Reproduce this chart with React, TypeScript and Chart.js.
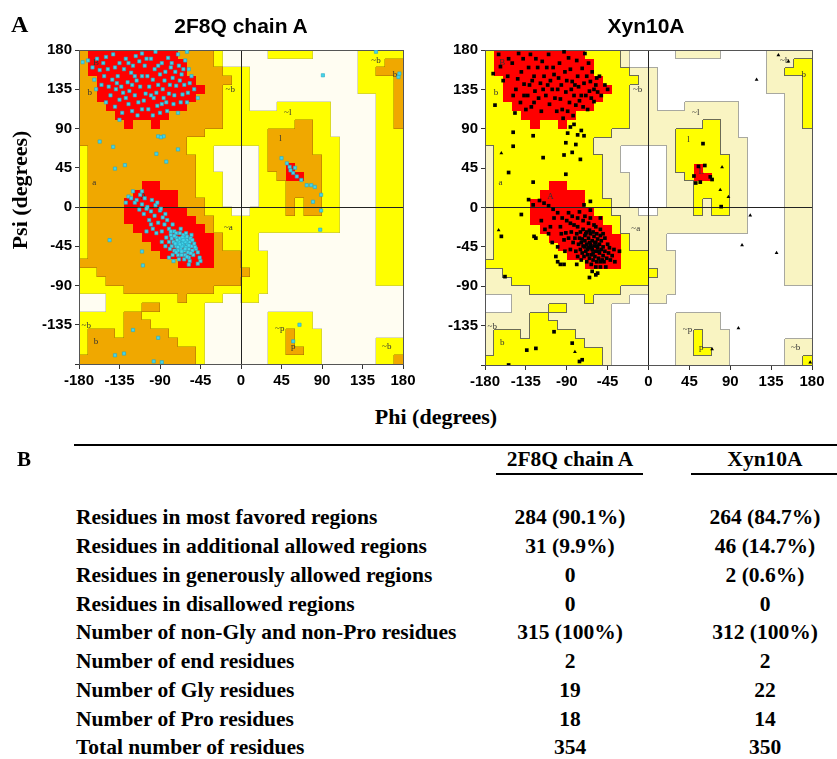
import React, { useEffect, useRef } from "react";
import { Chart, registerables } from "chart.js";

Chart.register(...registerables);

// ---------- DATA ----------
const PHI_TICKS = [-180, -135, -90, -45, 0, 45, 90, 135, 180];
const PSI_TICKS = [-180, -135, -90, -45, 0, 45, 90, 135, 180];

// Ramachandran region map, 10° cells. Rows: psi 180 -> -180, columns: phi -180 -> 180
// R = most favoured, O = additional allowed, Y = generously allowed, . = disallowed
const REGION_ROWS = [
  "ORRRRRRRRRROOOOY.." + "...YYYYY.....YYYYY",
  "ORRRRRRRRRRROOOY.." + ".............YYYOO",
  "ORRRRRRRRRRROOOOYY" + "Y............YYOOO",
  "OORRRRRRRRRRROOOOY" + "Y............YYYYO",
  "OORRRRRRRRRRRROOYY" + "Y............YYYYO",
  "OORRRRRRRRRRROOOYY" + "Y..............YYO",
  "OOORRRRRRRRROOOOYY" + "Y...YYYYYY.....YYO",
  "OOOORRRRRROOOOOOYY" + "YYYYYYYYYY.....YYO",
  "OOOOOROOROOOOOOOYY" + "YYYYYYOOYY.....YYO",
  "OOOOOOOOOOOOOOYYYY" + "YYYOOOOOYY.....YYY",
  "OOOOOOOOOOOOYYYYYY" + "YYYOOOOOYYY....YYY",
  "YOOOOOOOOOOOYYY..." + "..YOOOOOYYY....YYY",
  "YOOOOOOOOOOOOYY..." + "..YOOOOOOYY....YYY",
  "YOOOOOOOOOOOOYY..." + "..YOOROOOYY....YYY",
  "YOOOOOOOOOOOOYYY.." + "..YYORROOYY....YYY",
  "YOOOOOORROOOOYYY.." + "..YYYOOOOYY....YYY",
  "YOOOOORRRRROOYYY.." + "..YYYOOOOYY....YYY",
  "YOOOORRRRRROOOYY.." + "..YYYOYOOYY....YYY",
  "YOOOORRRRRRROOYYY." + ".YYYYOYOOYY....YYY",
  "YOOOORRRRRRRROOYYY" + "YYYYYYYYYYY....YYY",
  "YOOOOORRRRRRRROYYY" + "YYYYYYYYYYY....YYY",
  "YOOOOOORRRRRRRROYY" + "YY.............YYY",
  "YOOOOOOORRRRRRROYY" + "YY.............YYY",
  "YOOOOOOOORRRRRROOO" + "YYY............YYY",
  "OOOOOOOOOOORRRROOO" + "YYY............YYY",
  "YYOOOOOOOOOOOOOOOO" + "OYY............YYY",
  "YYYOOOOOOOOOOOOOOO" + "YYY............YYY",
  "YYYYYOOOOOOOOOOYYY" + "YYY...............",
  "...YYYYYYYYOYYYY.." + "YY................",
  "...YYYYOOYYYYY...." + "..................",
  "YYYYYOOYYYYYYY...." + "...YYYYY..........",
  "YYYYYOOOYYYYYY...." + "...YYYYY..........",
  "YOOOYOOOOOYYYY...." + "...YYOYYY.........",
  "YOOOOOOOOOOYYY...." + "...YYOYYY......YYY",
  "YOOOOOOOOOOOOY...." + "...YYOOYY......YYY",
  "OOOOOOOOOOOOOY...." + "...YYYYYY......YYO",
];

const REGION_LABELS: [string, number, number][] = [
  ["B", -161, 166], ["b", -168, 131], ["A", -108, 12], ["a", -163, 28],
  ["L", 58, 41], ["l", 44, 78], ["~l", 52, 108], ["~b", -12, 135],
  ["~a", -14, -24], ["~b", 150, 168], ["b", 171, 152], ["~b", -172, -136],
  ["b", -161, -154], ["~p", 43, -140], ["p", 58, -160], ["~b", 162, -160],
];

// 2F8Q chain A residues (phi, psi)
const LEFT_RESIDUES: [number, number][] = [
  [-176,166],[-170,168],[-163,146],[-161,135],[-157,157],[-152,150],[-148,158],[-143,146],[-139,135],[-135,123],
  [-131,131],[-126,143],[-122,154],[-117,173],[-113,167],[-107,162],[-104,150],[-98,146],[-94,131],[-93,116],
  [-87,135],[-83,120],[-81,171],[-76,148],[-72,139],[-69,162],[-65,129],[-59,131],[-55,150],[-150,172],
  [-142,175],[-135,165],[-128,170],[-120,162],[-110,176],[-100,170],[-95,178],[-88,165],[-78,160],[-70,175],
  [-62,168],[-58,158],[-145,128],[-150,120],[-140,115],[-132,108],[-125,118],[-118,128],[-112,138],[-108,122],
  [-103,112],[-97,125],[-90,108],[-85,145],[-80,130],[-75,118],[-68,145],[-63,140],[-60,120],[-52,135],
  [-48,125],[-155,140],[-147,138],[-137,150],[-130,158],[-124,133],[-116,145],[-110,150],[-102,138],[-96,158],
  [-90,152],[-84,155],[-79,140],[-73,155],[-66,152],[-138,142],[-133,138],[-128,125],[-121,140],[-114,120],
  [-106,130],[-100,128],[-92,140],[-86,125],[-74,128],[-67,120],[-57,142],[-121,110],[-115,105],[-135,100],
  [-98,105],[-82,110],[-70,108],[-165,160],[-160,170],[-153,165],[-125,165],[-118,150],[-105,170],[-92,162],
  [-60,178],[-140,160],[-110,112],[-88,118],[-77,165],[-64,158],
  [-157,75],[-142,69],[-140,44],[-129,48],[-92,81],[-86,81],[-89,80],[-94,61],[-83,52],[-70,66],
  [-125,12],[-120,18],[-116,8],[-112,14],[-118,5],[-110,3],[-107,10],[-104,0],[-113,-3],[-108,-8],
  [-100,-5],[-102,-15],[-96,-10],[-95,2],[-90,-4],[-92,-18],[-87,-12],[-85,-20],[-98,-25],[-94,-30],
  [-88,-28],[-82,-15],[-80,-25],[-78,-32],[-83,-35],[-76,-20],[-74,-28],[-72,-35],[-70,-42],[-75,-40],
  [-68,-30],[-66,-38],[-64,-44],[-62,-36],[-60,-42],[-58,-48],[-67,-48],[-63,-50],[-70,-50],[-72,-45],
  [-65,-42],[-61,-46],[-57,-40],[-55,-45],[-59,-52],[-54,-50],[-68,-36],[-64,-32],[-60,-38],[-66,-45],
  [-62,-40],[-69,-40],[-71,-38],[-73,-42],[-56,-36],[-52,-42],[-50,-48],[-53,-55],[-58,-58],[-62,-55],
  [-66,-55],[-70,-55],[-74,-50],[-77,-45],[-80,-40],[-79,-48],[-63,-60],[-57,-62],[-48,-52],[-46,-58],
  [-67,-25],[-61,-30],[-55,-32],[-72,-30],[-77,-36],[-65,-35],[-60,-34],[-58,-44],[-64,-38],[-68,-43],
  [-70,-46],[-62,-48],[-56,-53],[-60,-57],[-66,-51],[-72,-52],[-76,-55],[-54,-38],[-51,-46],[-74,-33],
  [-78,-28],[-84,-8],[-89,-2],[-93,5],[-99,8],[-105,-2],[-110,18],[-122,10],[-128,5],[-80,-58],
  [-69,-60],[-75,-62],[-84,-45],[-88,-40],[-45,-62],[-48,-65],[-58,-66],[-100,-20],[-105,-28],
  [-110,-51],[-109,-67],[-146,-38],[-120,-141],[-92,-150],[-140,-170],[-97,-177],[-88,-178],[-130,-168],
  [45,56],[51,50],[54,46],[58,39],[62,35],[67,31],[73,25],[78,25],[82,23],[80,6],
  [89,14],[89,-4],[88,-26],[55,42],[60,45],
  [91,151],[58,-154],[65,-135],[175,149],[176,153],[150,178],
];

// Xyn10A residues (phi, psi)
const RIGHT_RESIDUES: [number, number][] = [
  [-171,153],[-163,161],[-154,170],[-143,176],[-144,147],[-146,135],[-137,141],[-133,128],[-126,120],[-125,133],
  [-117,167],[-112,160],[-108,145],[-104,152],[-100,135],[-97,124],[-91,132],[-88,171],[-84,144],[-80,117],
  [-77,138],[-73,159],[-69,128],[-64,144],[-60,121],[-56,132],[-150,165],[-138,170],[-130,175],[-122,160],
  [-115,150],[-110,175],[-98,165],[-93,178],[-86,158],[-79,168],[-70,176],[-66,165],[-62,155],[-155,150],
  [-149,128],[-141,120],[-135,112],[-128,145],[-121,125],[-116,135],[-109,118],[-103,125],[-95,112],[-90,145],
  [-82,128],[-76,122],[-71,142],[-65,133],[-58,140],[-52,128],[-45,135],[-140,155],[-132,160],[-126,150],
  [-119,142],[-113,128],[-106,135],[-99,148],[-92,155],[-85,135],[-78,150],[-74,128],[-68,150],[-63,125],
  [-57,148],[-131,140],[-124,170],[-118,110],[-111,140],[-101,110],[-96,140],[-87,120],[-81,140],[-67,112],
  [-60,135],[-147,108],[-137,128],[-160,145],[-165,175],[-105,160],[-89,110],[-72,115],[-54,150],[-48,140],
  [-129,115],[-83,105],[-94,102],
  [-82,95],[-89,85],[-78,83],[-71,82],[-91,74],[-80,72],[-84,63],[-116,57],[-127,29],[-149,86],
  [-127,82],[-149,70],[-154,40],[-91,38],[-75,55],[-64,7],[-169,117],[-93,60],[-86,92],[-74,88],
  [-132,9],[-140,-8],[-127,3],[-162,-33],[-126,-33],[-124,-35],[-102,-56],[-100,-62],[-97,-65],[-93,-65],
  [-79,-65],[-62,-73],[-56,-75],[-108,-22],[-97,-22],[-91,-29],[-93,-37],[-88,-6],[-86,-18],[-71,3],
  [-64,-3],[-53,-12],[-43,-46],[-32,-50],[-37,-62],
  [-78,-22],[-75,-28],[-72,-25],[-70,-32],[-68,-28],[-66,-35],[-64,-30],[-62,-38],[-60,-33],[-58,-40],
  [-56,-36],[-54,-42],[-52,-38],[-50,-45],[-48,-50],[-76,-35],[-74,-40],[-72,-44],[-70,-38],[-68,-42],
  [-66,-46],[-64,-42],[-62,-48],[-60,-44],[-58,-50],[-56,-46],[-54,-52],[-52,-48],[-50,-55],[-46,-58],
  [-75,-48],[-73,-52],[-71,-56],[-69,-50],[-67,-54],[-65,-58],[-63,-54],[-61,-60],[-59,-56],[-57,-62],
  [-55,-58],[-53,-62],[-51,-60],[-49,-62],[-77,-42],[-79,-30],[-81,-35],[-83,-40],[-85,-28],[-80,-50],
  [-78,-56],[-74,-60],[-68,-62],[-63,-65],[-58,-68],[-53,-68],[-47,-68],[-44,-52],[-70,-45],[-65,-40],
  [-61,-52],[-57,-44],[-67,-48],[-63,-46],[-59,-40],[-55,-50],[-73,-36],[-69,-30],[-65,-26],[-61,-28],
  [-57,-30],[-53,-32],[-60,-20],[-66,-18],[-72,-15],[-78,-12],[-84,-10],[-90,-15],[-95,-12],[-100,-6],
  [-105,-2],[-110,2],[-115,5],[-120,8],[-96,-30],[-88,-35],[-86,-48],[-92,-50],[-100,-45],[-106,-40],
  [-110,-30],[-114,-25],[-118,-15],[-104,-12],[-82,-20],[-76,-5],[-70,-10],[-64,-12],[-58,-22],[-53,-25],
  [-48,-35],[-45,-42],[-50,-30],[-42,-60],[-40,-55],[-38,-48],
  [-158,-79],[-104,-142],[-84,-155],[-134,-163],[-124,-161],[-76,-176],[-73,-174],[-154,-180],[-65,-80],[-58,-77],
  [60,73],[55,47],[52,28],[57,29],[68,35],[80,1],[62,48],[50,36],[70,32],
];

// Xyn10A glycine residues (triangles)
const RIGHT_GLYCINES: [number, number][] = [
  [-162,62],[-165,-26],[81,46],[112,-9],[103,-43],[119,146],[143,174],[154,167],[141,-52],[99,-138],
  [70,-162],[178,-177],[-81,-165],[79,20],[88,12],
];

const TABLE_HEADERS = ["2F8Q chain A", "Xyn10A"];
const TABLE_LABELS = [
  "Residues in most favored regions",
  "Residues in additional allowed regions",
  "Residues in generously allowed regions",
  "Residues in disallowed regions",
  "Number of non-Gly and non-Pro residues",
  "Number of end residues",
  "Number of Gly residues",
  "Number of Pro residues",
  "Total number of residues",
];
const TABLE_2F8Q = ["284 (90.1%)", "31 (9.9%)", "0", "0", "315 (100%)", "2", "19", "18", "354"];
const TABLE_XYN10A = ["264 (84.7%)", "46 (14.7%)", "2 (0.6%)", "0", "312 (100%)", "2", "22", "14", "350"];

// ---------- CHART HELPERS ----------
type Palette = Record<string, string>;

const LEFT_PALETTE: Palette = { R: "#ff0000", O: "#f0a800", Y: "#ffff00", ".": "#fffdf2" };
const RIGHT_PALETTE: Palette = { R: "#ff0000", O: "#ffff00", Y: "#f9f4c2", ".": "#ffffff" };

function makeRegionPlugin(palette: Palette, edges: { strong: string; weak: string } | null) {
  return {
    id: "ramaRegions",
    beforeDraw(chart: any) {
      const { ctx, scales } = chart;
      const xs = scales.x;
      const ys = scales.y;
      const code = (r: number, c: number) => (REGION_ROWS[r] && REGION_ROWS[r][c]) || ".";
      const px = (c: number) => Math.round(xs.getPixelForValue(-180 + 10 * c));
      const py = (r: number) => Math.round(ys.getPixelForValue(180 - 10 * r));
      ctx.save();
      for (let r = 0; r < 36; r++) {
        for (let c = 0; c < 36; c++) {
          const x0 = px(c), x1 = px(c + 1), y0 = py(r), y1 = py(r + 1);
          ctx.fillStyle = palette[code(r, c)];
          ctx.fillRect(x0, y0, x1 - x0, y1 - y0);
        }
      }
      if (edges) {
        ctx.lineWidth = 1;
        for (let r = 0; r < 36; r++) {
          for (let c = 0; c < 36; c++) {
            const a = code(r, c);
            if (c < 35) {
              const b = code(r, c + 1);
              if (a !== b && a !== "R" && b !== "R") {
                ctx.strokeStyle = a === "." || b === "." ? edges.weak : edges.strong;
                const x = px(c + 1) - 0.5;
                ctx.beginPath();
                ctx.moveTo(x, py(r));
                ctx.lineTo(x, py(r + 1));
                ctx.stroke();
              }
            }
            if (r < 35) {
              const b = code(r + 1, c);
              if (a !== b && a !== "R" && b !== "R") {
                ctx.strokeStyle = a === "." || b === "." ? edges.weak : edges.strong;
                const y = py(r + 1) - 0.5;
                ctx.beginPath();
                ctx.moveTo(px(c), y);
                ctx.lineTo(px(c + 1), y);
                ctx.stroke();
              }
            }
          }
        }
      }
      ctx.fillStyle = "#333";
      ctx.font = '9px "Liberation Serif", serif';
      ctx.textAlign = "center";
      ctx.textBaseline = "middle";
      for (const [t, phi, psi] of REGION_LABELS) {
        ctx.fillText(t, xs.getPixelForValue(phi), ys.getPixelForValue(psi));
      }
      ctx.restore();
    },
  };
}

const tickFont = { family: '"Liberation Sans", Arial, sans-serif', size: 15, weight: "bold" as const };

function gridColor(ctx: any) {
  const v = ctx.tick ? ctx.tick.value : null;
  if (v === 0) return "#222";
  if (v === 180 || v === -180) return "#555";
  return "rgba(0,0,0,0)";
}

function buildOptions(yAxisWidth: number, xAxisHeight: number, rightPad: number) {
  return {
    responsive: false,
    animation: false as const,
    events: [] as any[],
    layout: { padding: { left: 0, right: rightPad, top: 50, bottom: 0 } },
    plugins: { legend: { display: false }, tooltip: { enabled: false }, title: { display: false } },
    scales: {
      x: {
        type: "linear" as const,
        min: -180,
        max: 180,
        afterFit: (s: any) => { s.height = xAxisHeight; },
        afterBuildTicks: (s: any) => { s.ticks = PHI_TICKS.map((v) => ({ value: v })); },
        ticks: { font: tickFont, color: "#000", padding: 3, maxRotation: 0, autoSkip: false },
        grid: { color: gridColor, tickColor: "#333", tickLength: 5, lineWidth: 1 },
        border: { display: true, color: "#555" },
      },
      y: {
        type: "linear" as const,
        min: -180,
        max: 180,
        afterFit: (s: any) => { s.width = yAxisWidth; },
        afterBuildTicks: (s: any) => { s.ticks = PSI_TICKS.map((v) => ({ value: v })); },
        ticks: {
          font: tickFont,
          color: "#000",
          padding: 3,
          autoSkip: false,
          callback: (v: any) => (v === -180 ? "" : String(v)),
        },
        grid: { color: gridColor, tickColor: "#333", tickLength: 4, lineWidth: 1 },
        border: { display: true, color: "#555" },
      },
    },
  };
}

function RamaChart(props: {
  width: number; height: number; left: number; yAxisWidth: number; xAxisHeight: number; rightPad: number;
  palette: Palette; edges: { strong: string; weak: string } | null; datasets: any[];
}) {
  const ref = useRef<HTMLCanvasElement | null>(null);
  useEffect(() => {
    if (!ref.current) return;
    const chart = new Chart(ref.current, {
      type: "scatter",
      data: { datasets: props.datasets },
      options: buildOptions(props.yAxisWidth, props.xAxisHeight, props.rightPad) as any,
      plugins: [makeRegionPlugin(props.palette, props.edges)],
    });
    return () => chart.destroy();
  }, []);
  return (
    <canvas
      ref={ref}
      width={props.width}
      height={props.height}
      style={{ position: "absolute", left: props.left, top: 0, width: props.width, height: props.height }}
    />
  );
}

const toXY = (arr: [number, number][]) => arr.map(([x, y]) => ({ x, y }));

const serif = '"Liberation Serif", "Times New Roman", serif';
const sans = '"Liberation Sans", Arial, sans-serif';

function Centered(props: { x: number; y: number; style?: React.CSSProperties; children: React.ReactNode }) {
  return (
    <div
      style={{
        position: "absolute",
        left: props.x,
        top: props.y,
        transform: "translate(-50%, -50%)",
        whiteSpace: "nowrap",
        lineHeight: 1,
        ...props.style,
      }}
    >
      {props.children}
    </div>
  );
}

export default function App() {
  const leftSets = [
    {
      data: toXY(LEFT_RESIDUES),
      pointStyle: "rect",
      pointRadius: 2.3,
      backgroundColor: "#45d4ea",
      borderColor: "#25a9c4",
      borderWidth: 0.6,
    },
  ];
  const rightSets = [
    {
      data: toXY(RIGHT_RESIDUES),
      pointStyle: "rect",
      pointRadius: 2.6,
      backgroundColor: "#000",
      borderColor: "#000",
      borderWidth: 0,
    },
    {
      data: toXY(RIGHT_GLYCINES),
      pointStyle: "triangle",
      pointRadius: 2.2,
      backgroundColor: "#000",
      borderColor: "#000",
      borderWidth: 0,
    },
  ];
  const rowY0 = 518.3;
  const rowStep = 28.75;
  const rowFont: React.CSSProperties = { fontFamily: serif, fontWeight: "bold", fontSize: 21.5, color: "#000" };
  return (
    <div style={{ position: "relative", width: 837, height: 759, background: "#fff", overflow: "hidden" }}>
      <style>{`body{margin:0;}`}</style>
      <RamaChart
        width={420} height={400} left={0} yAxisWidth={79} xAxisHeight={36} rightPad={17}
        palette={LEFT_PALETTE} edges={{ strong: "rgba(150,105,0,0.45)", weak: "rgba(150,150,110,0.35)" }} datasets={leftSets}
      />
      <RamaChart
        width={417} height={400} left={420} yAxisWidth={65} xAxisHeight={35} rightPad={25}
        palette={RIGHT_PALETTE} edges={{ strong: "#6b6b55", weak: "#a8a8a0" }} datasets={rightSets}
      />
      <div style={{ position: "absolute", left: 11, top: 12, fontFamily: serif, fontWeight: "bold", fontSize: 24, lineHeight: 1 }}>A</div>
      <Centered x={241} y={25} style={{ fontFamily: sans, fontWeight: "bold", fontSize: 21 }}>2F8Q chain A</Centered>
      <Centered x={646} y={25} style={{ fontFamily: sans, fontWeight: "bold", fontSize: 21 }}>Xyn10A</Centered>
      <div
        style={{
          position: "absolute", left: 20, top: 190, transform: "translate(-50%, -50%) rotate(-90deg)",
          whiteSpace: "nowrap", lineHeight: 1, fontFamily: serif, fontWeight: "bold", fontSize: 22,
        }}
      >
        Psi (degrees)
      </div>
      <Centered x={436} y={417} style={{ fontFamily: serif, fontWeight: "bold", fontSize: 22 }}>Phi (degrees)</Centered>

      <Centered x={24} y={459} style={{ fontFamily: serif, fontWeight: "bold", fontSize: 21 }}>B</Centered>
      <div style={{ position: "absolute", left: 74, top: 444, width: 763, height: 2, background: "#000" }} />
      <Centered x={570} y={460} style={rowFont}>{TABLE_HEADERS[0]}</Centered>
      <Centered x={765} y={460} style={rowFont}>{TABLE_HEADERS[1]}</Centered>
      <div style={{ position: "absolute", left: 496, top: 473, width: 147, height: 2, background: "#000" }} />
      <div style={{ position: "absolute", left: 691, top: 473, width: 146, height: 2, background: "#000" }} />
      {TABLE_LABELS.map((label, i) => (
        <React.Fragment key={label}>
          <div
            style={{
              position: "absolute", left: 76, top: rowY0 + i * rowStep, transform: "translateY(-50%)",
              whiteSpace: "nowrap", lineHeight: 1, ...rowFont,
            }}
          >
            {label}
          </div>
          <Centered x={570} y={rowY0 + i * rowStep} style={rowFont}>{TABLE_2F8Q[i]}</Centered>
          <Centered x={765} y={rowY0 + i * rowStep} style={rowFont}>{TABLE_XYN10A[i]}</Centered>
        </React.Fragment>
      ))}
    </div>
  );
}
